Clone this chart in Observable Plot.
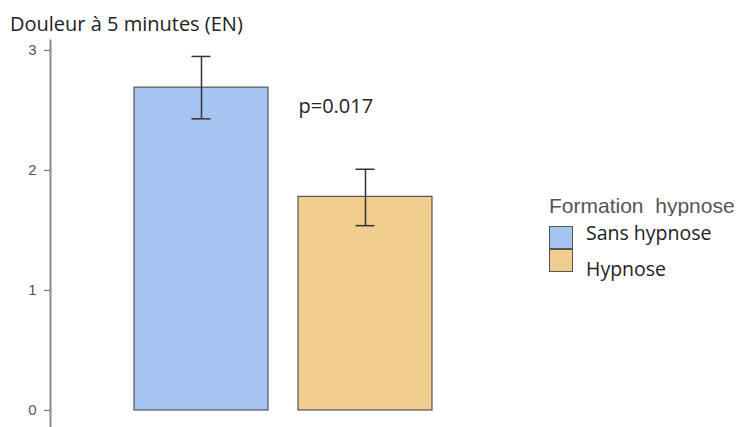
<!DOCTYPE html>
<html>
<head>
<meta charset="utf-8">
<script src="https://cdn.jsdelivr.net/npm/d3@7"></script>
<script src="https://cdn.jsdelivr.net/npm/@observablehq/plot@0.6"></script>
<style>
  html, body { margin: 0; padding: 0; background: #fff; }
  #wrap { position: relative; width: 752px; height: 427px; overflow: hidden; }
  .abs { position: absolute; white-space: pre; }
  #title { left: 10px; top: 14px; font: 20px/20px "Open Sans", sans-serif; color: #222; }
  .lt { font: 21px/21px "Liberation Sans", Arial, sans-serif; color: #555; height: 21px; overflow: hidden; }
  .sw { width: 24px; height: 23px; border: 1.5px solid #555; box-sizing: border-box; }
  .lab { font: 19.5px/19.5px "Open Sans", sans-serif; color: #222; }
</style>
</head>
<body>
<div id="wrap"></div>
<script>
const categories = ["Sans hypnose", "Hypnose"];
const means = [2.69, 1.78];
const lower = [2.43, 1.54];
const upper = [2.95, 2.01];
const colors = ["#a6c4f1", "#f0cd8e"];
const yTicks = [0, 1, 2, 3];
const titleText = "Douleur à 5 minutes (EN)";
const legendTitle = "Formation  hypnose";
const pLabel = "p=0.017";

const data = categories.map((c, i) => ({cat: c, mean: means[i], lo: lower[i], hi: upper[i]}));

const plot = Plot.plot({
  width: 752,
  height: 427,
  marginLeft: 50,
  marginTop: 40,
  marginBottom: 0,
  marginRight: 0,
  style: {fontFamily: "'Liberation Sans', Arial, sans-serif", background: "#fff"},
  x: {domain: categories, range: [133, 433], paddingInner: 0.18, paddingOuter: 0, axis: null},
  y: {domain: [-0.142, 3.083]},
  color: {domain: categories, range: colors},
  marks: [
    Plot.frame({anchor: "left", stroke: "#8a8a8a", strokeWidth: 2}),
    Plot.axisY({ticks: yTicks, tickFormat: d => String(d), tickSize: 6, tickPadding: 8, stroke: "#666", strokeOpacity: 1, fill: "#555", label: null, fontSize: 15}),
    Plot.barY(data, {x: "cat", y1: 0, y2: "mean", fill: "cat", stroke: "#555", strokeWidth: 1.2}),
    Plot.ruleX(data, {x: "cat", y1: "lo", y2: "hi", stroke: "#333", strokeWidth: 1.5}),
    Plot.tickY(data, {x: "cat", y: "hi", stroke: "#333", strokeWidth: 1.5, insetLeft: 57.5, insetRight: 57.5}),
    Plot.tickY(data, {x: "cat", y: "lo", stroke: "#333", strokeWidth: 1.5, insetLeft: 57.5, insetRight: 57.5}),
    Plot.text([pLabel], {x: () => categories[1], y: () => 2.53, text: d => d, textAnchor: "start", dx: -67, fontSize: 20, fill: "#222", fontFamily: "'Open Sans', sans-serif"})
  ]
});

const wrap = document.getElementById("wrap");
wrap.appendChild(plot);

function add(cls, text, left, top, extra) {
  const d = document.createElement("div");
  d.className = "abs " + cls;
  if (text != null) d.textContent = text;
  d.style.left = left + "px";
  d.style.top = top + "px";
  if (extra) Object.assign(d.style, extra);
  wrap.appendChild(d);
  return d;
}

const t = add("", titleText, 10, 14);
t.id = "title";

add("lt", legendTitle, 549, 195);
categories.forEach((c, i) => {
  add("sw", null, 549, 226 + i * 23, {background: colors[i]});
  add("lab", c, 586, 223 + i * 36);
});
</script>
</body>
</html>
